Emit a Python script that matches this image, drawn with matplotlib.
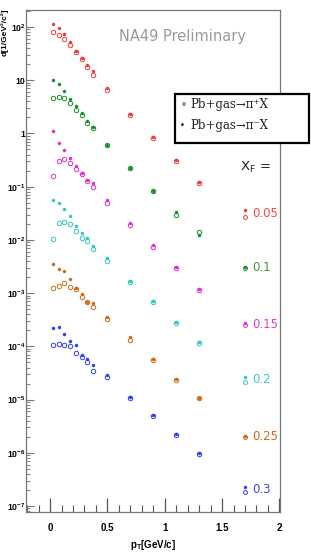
import matplotlib
matplotlib.use("Agg")
import matplotlib.pyplot as plt
from matplotlib.patches import Rectangle
from matplotlib.ticker import FixedLocator, LogLocator, MultipleLocator, NullFormatter
import numpy as np

#===========data===========
pt = [0.025, 0.075, 0.125, 0.175, 0.225, 0.275, 0.325, 0.375, 0.5, 0.7, 0.9, 1.1, 1.3]

xf_labels = ["0.05", "0.1", "0.15", "0.2", "0.25", "0.3"]
colors = ["#ee3b3b", "#14902a", "#dd30cc", "#30c8c0", "#cc6a14", "#3040ee"]
label_colors = ["#ee4a4a", "#3c963c", "#dd40cc", "#40c8c0", "#cc6a24", "#3a48ee"]

# pi- (filled)
pim = [
    [114, 94, 73, 53, 36, 26.5, 19.3, 14.9, 7.0, 2.29, 0.87, 0.32, 0.122],
    [10, 8.4, 6.3, 4.4, 3.3, 2.4, 1.7, 1.34, 0.62, 0.226, 0.084, 0.033, 0.0123],
    [1.12, 0.67, 0.49, 0.35, 0.244, 0.178, 0.133, 0.115, 0.056, 0.0205, 0.0079, 0.0031, 0.00119],
    [0.056, 0.0485, 0.038, 0.028, 0.018, 0.0136, 0.0107, 0.0078, 0.0046, 0.0017, 0.00071, 0.00029, 0.000122],
    [0.00347, 0.00286, 0.00256, 0.00181, 0.00123, 0.00095, 0.00069, 0.00064, 0.00036, 0.000147, 5.9e-5, 2.4e-5, 1.08e-5],
    [2.17e-4, 2.26e-4, 1.67e-4, 1.26e-4, 1.05e-4, 7.0e-5, 5.9e-5, 4.4e-5, 2.9e-5, 1.12e-5, 5.1e-6, 2.3e-6, 1.0e-6],
]
# pi+ (open)
pip = [
    [80, 72, 59, 46, 34, 25, 18, 12.5, 6.7, 2.2, 0.83, 0.31, 0.117],
    [4.7, 4.8, 4.6, 3.8, 2.8, 2.2, 1.6, 1.25, 0.6, 0.22, 0.082, 0.030, 0.014],
    [0.16, 0.31, 0.33, 0.28, 0.214, 0.17, 0.127, 0.1, 0.050, 0.019, 0.0072, 0.003, 0.00115],
    [0.0104, 0.021, 0.0216, 0.0195, 0.0146, 0.0107, 0.0095, 0.0068, 0.0040, 0.0016, 0.00068, 0.00028, 0.000115],
    [0.00123, 0.00135, 0.00152, 0.00132, 0.00118, 0.00085, 0.00067, 0.00055, 0.00032, 0.000134, 5.5e-5, 2.3e-5, 1.05e-5],
    [1.08e-4, 1.13e-4, 1.07e-4, 1.01e-4, 7.4e-5, 6.3e-5, 5.1e-5, 3.4e-5, 2.7e-5, 1.08e-5, 4.9e-6, 2.2e-6, 0.95e-6],
]

# key points next to the x_F labels
key_x = 1.7
key_pim = [0.036, 0.0031, 2.7e-4, 2.7e-5, 2.1e-6, 2.3e-7]
key_pip = [0.027, 0.0030, 2.5e-4, 2.15e-5, 1.95e-6, 1.84e-7]

y_major = [1e-7, 1e-6, 1e-5, 1e-4, 1e-3, 1e-2, 1e-1, 1, 10, 100]
y_ticklabels = [r"$\mathbf{10^{-7}}$", r"$\mathbf{10^{-6}}$", r"$\mathbf{10^{-5}}$", r"$\mathbf{10^{-4}}$",
                r"$\mathbf{10^{-3}}$", r"$\mathbf{10^{-2}}$", r"$\mathbf{10^{-1}}$", "1", "10", r"$\mathbf{10^{2}}$"]
x_major = [0, 0.5, 1, 1.5, 2]
x_ticklabels = ["0", "0.5", "1", "1.5", "2"]

#===========plot===========
plt.rcParams['font.family'] = ['Liberation Sans', 'DejaVu Sans']
plt.rcParams['mathtext.fontset'] = 'custom'
plt.rcParams['mathtext.bf'] = 'Liberation Sans:bold'
plt.rcParams['mathtext.rm'] = 'Liberation Sans'

fig = plt.figure(figsize=(3.11, 5.57), dpi=100)
ax = fig.add_axes([26/311, 1-512/557, 254/311, 502/557])

for i in range(len(xf_labels)):
    c = colors[i]
    ax.plot(pt, pip[i], linestyle='none', marker='o', ms=3.2, mfc='none', mec=c, mew=0.7)
    ax.plot(pt, pim[i], linestyle='none', marker='o', ms=2.2, mfc=c, mec=c, mew=0.3)
    ax.plot([key_x], [key_pip[i]], linestyle='none', marker='o', ms=2.8, mfc='none', mec=c, mew=0.7)
    ax.plot([key_x], [key_pim[i]], linestyle='none', marker='o', ms=2.2, mfc=c, mec=c, mew=0.3)
    ymid = np.sqrt(key_pim[i] * key_pip[i])
    ax.text(1.765, ymid, xf_labels[i], color=label_colors[i], fontsize=8.5,
            family='DejaVu Sans', ha='left', va='center')

ax.text(1.66, 0.23, r"X$_\mathregular{F}$ =", fontsize=9.5, family='DejaVu Sans',
        ha='left', va='center', color='#222222')
ax.text(0.6, 65, "NA49 Preliminary", fontsize=10.5, family='DejaVu Sans',
        ha='left', va='center', color='#9a9a9a')

ax.set_yscale('log')
ax.set_xlim(-0.21, 2.005)
ax.set_ylim(10**-7.113, 10**2.32)

ax.yaxis.set_major_locator(FixedLocator(y_major))
ax.set_yticklabels(y_ticklabels)
ax.yaxis.set_minor_locator(LogLocator(base=10, subs=np.arange(2, 10), numticks=20))
ax.yaxis.set_minor_formatter(NullFormatter())
ax.xaxis.set_major_locator(FixedLocator(x_major))
ax.set_xticklabels(x_ticklabels)
ax.xaxis.set_minor_locator(MultipleLocator(0.1))

ax.tick_params(axis='y', which='major', direction='in', length=5.5, width=0.8, color='#777777', pad=0.5, labelsize=6.2)
ax.tick_params(axis='y', which='minor', direction='in', length=3, width=0.8, color='#888888')
ax.tick_params(axis='x', which='major', direction='in', length=10, width=0.9, color='#555555', pad=8, labelsize=7)
ax.tick_params(axis='x', which='minor', direction='in', length=5, width=0.8, color='#555555')
for lab in ax.get_xticklabels() + ax.get_yticklabels():
    lab.set_fontweight('bold')

for s in ax.spines.values():
    s.set_color('#777777')
    s.set_linewidth(0.9)

fig.text(153/311, 1-545/557, r"p$_\mathbf{T}$[GeV/c]", fontsize=7, fontweight='bold',
         ha='center', va='center')
fig.text(0.5/311, 1-8/557, "d[1/GeV\u00b2/c\u00b2]", fontsize=6.0, fontweight='bold',
         rotation=90, ha='left', va='top')

# legend box
box = Rectangle((175/311, 1-143/557), 134/311, 49/557, transform=fig.transFigure,
                facecolor='white', edgecolor='black', linewidth=1.6, zorder=10)
fig.add_artist(box)
fig.text(180/311, 1-104.5/557, "\u2218", fontsize=7, family='DejaVu Sans', ha='left', va='center', zorder=11)
fig.text(180/311, 1-125/557, "\u2022", fontsize=6, family='DejaVu Sans', ha='left', va='center', zorder=11)
fig.text(190/311, 1-104.5/557, "Pb+gas\u2192\u03c0\u207aX", fontsize=8.5, family='DejaVu Serif',
         ha='left', va='center', color='#222222', zorder=11)
fig.text(190/311, 1-125/557, "Pb+gas\u2192\u03c0\u207bX", fontsize=8.5, family='DejaVu Serif',
         ha='left', va='center', color='#222222', zorder=11)

fig.savefig("out.png", dpi=100)
